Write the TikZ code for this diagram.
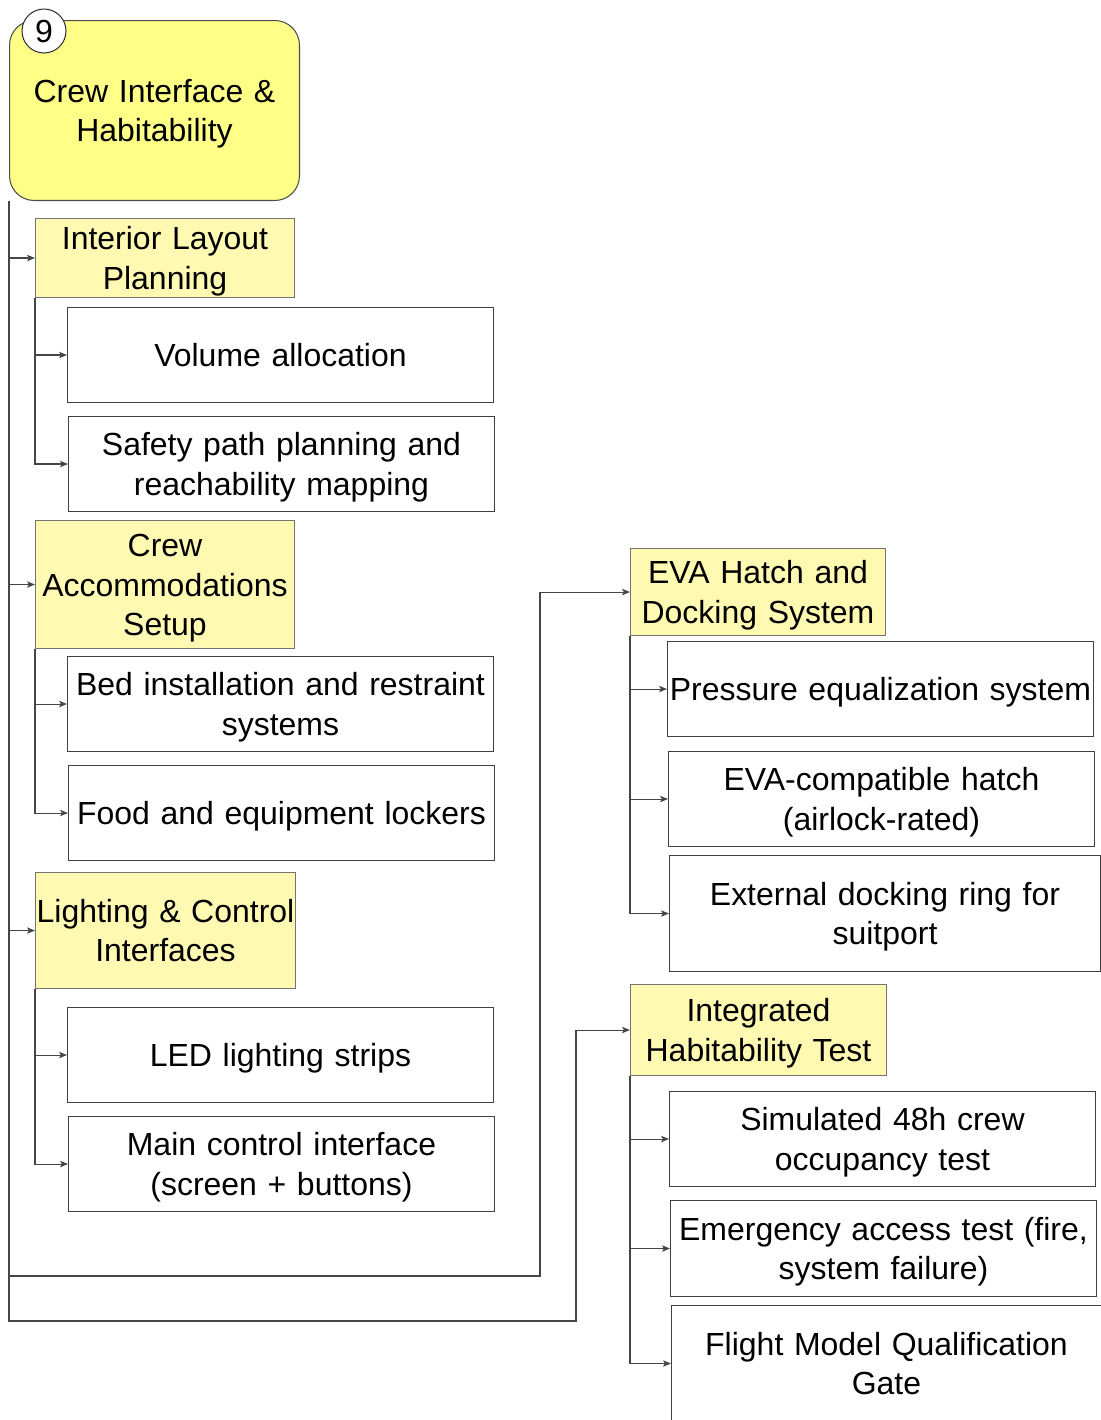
\documentclass[tikz,border=0pt]{standalone}
\usepackage{fontspec}
\setmainfont{Liberation Sans}
\usetikzlibrary{arrows.meta}

\definecolor{rootfill}{RGB}{255,255,136}
\definecolor{phasefill}{RGB}{255,249,178}
\definecolor{linegray}{RGB}{70,70,70}

\begin{document}
\begin{tikzpicture}[x=0.02cm,y=-0.02cm,->,>={Stealth[length=4.5pt,width=3.6pt,inset=1pt]},line width=0.6pt,draw=linegray,
    every node/.style={font=\fontsize{18.2pt}{22.6pt}\selectfont,align=center,inner sep=0pt,anchor=north west},
    boxtext/.style={text width=#1,execute at begin node={\rule{0pt}{17pt}},execute at end node={\rule[-3.8pt]{0pt}{3.8pt}}},
    root box/.style={rectangle,rounded corners=14pt,draw=black!70,fill=rootfill,minimum width=5.8cm,minimum height=3.6cm,boxtext=5.8cm},
    phase/.style={rectangle,draw=black!55,fill=phasefill,minimum width=5.18cm,boxtext=5.18cm},
    task/.style={rectangle,draw=black!75,fill=white,minimum width=8.52cm,minimum height=1.9cm,boxtext=8.52cm},
    elbow/.style={to path={|- (\tikztotarget)}}]

    \useasboundingbox (0,0) rectangle (1101,1420);

    % top of the branch
    \node[root box] (root) at (9,20) {Crew Interface \&\\Habitability};
    \node[circle,draw=black!80,fill=white,minimum size=0.88cm,anchor=center] (num) at (44,31) {9};

    % left column
    \node[phase,minimum height=1.58cm] (layout) at (35,218) {Interior Layout\\Planning};
    \node[task] (volume) at (67,307) {Volume allocation};
    \node[task] (safety) at (68,416) {Safety path planning and\\reachability mapping};

    \node[phase,minimum height=2.56cm] (accom) at (35,520) {Crew\\Accommodations\\Setup};
    \node[task] (bed) at (67,656) {Bed installation and restraint\\systems};
    \node[task] (lockers) at (68,765) {Food and equipment lockers};

    \node[phase,minimum height=2.32cm,boxtext=5.2cm] (lighting) at (35,872) {Lighting \& Control\\Interfaces};
    \node[task] (led) at (67,1007) {LED lighting strips};
    \node[task] (panel) at (68,1116) {Main control interface\\(screen + buttons)};

    % right column
    \node[phase,minimum width=5.1cm,minimum height=1.74cm,boxtext=5.1cm] (eva) at (630,548) {EVA Hatch and\\Docking System};
    \node[task] (pressure) at (667,641) {Pressure equalization system};
    \node[task] (hatch) at (668,751) {EVA-compatible hatch\\(airlock-rated)};
    \node[task,minimum width=8.62cm,minimum height=2.32cm,boxtext=8.62cm] (ring) at (669,855) {External docking ring for\\suitport};

    \node[phase,minimum width=5.12cm,minimum height=1.82cm,boxtext=5.12cm] (habtest) at (630,984) {Integrated\\Habitability Test};
    \node[task] (occupancy) at (669,1091) {Simulated 48h crew\\occupancy test};
    \node[task,minimum height=1.92cm] (emergency) at (670,1200) {Emergency access test (fire,\\system failure)};
    \node[task,minimum width=8.6cm,minimum height=2.32cm,boxtext=8.6cm] (gate) at (671,1305) {Flight Model Qualification\\Gate};

    % trunk
    \coordinate (evabend) at (540,1276);
    \coordinate (testbend) at (576,1321);

    \path (root.south west) edge[elbow] (layout.west)
                            edge[elbow] (accom.west)
                            edge[elbow] (lighting.west);
    \draw (root.south west) |- (evabend) |- (eva.west);
    \draw (root.south west) |- (testbend) |- (habtest.west);

    % sub tasks
    \path (layout.south west) edge[elbow] (volume.west)
                              edge[elbow] (safety.west);
    \path (accom.south west) edge[elbow] (bed.west)
                             edge[elbow] (lockers.west);
    \path (lighting.south west) edge[elbow] (led.west)
                                edge[elbow] (panel.west);
    \path (eva.south west) edge[elbow] (pressure.west)
                           edge[elbow] (hatch.west)
                           edge[elbow] (ring.west);
    \path (habtest.south west) edge[elbow] (occupancy.west)
                               edge[elbow] (emergency.west)
                               edge[elbow] (gate.west);
\end{tikzpicture}
\end{document}
